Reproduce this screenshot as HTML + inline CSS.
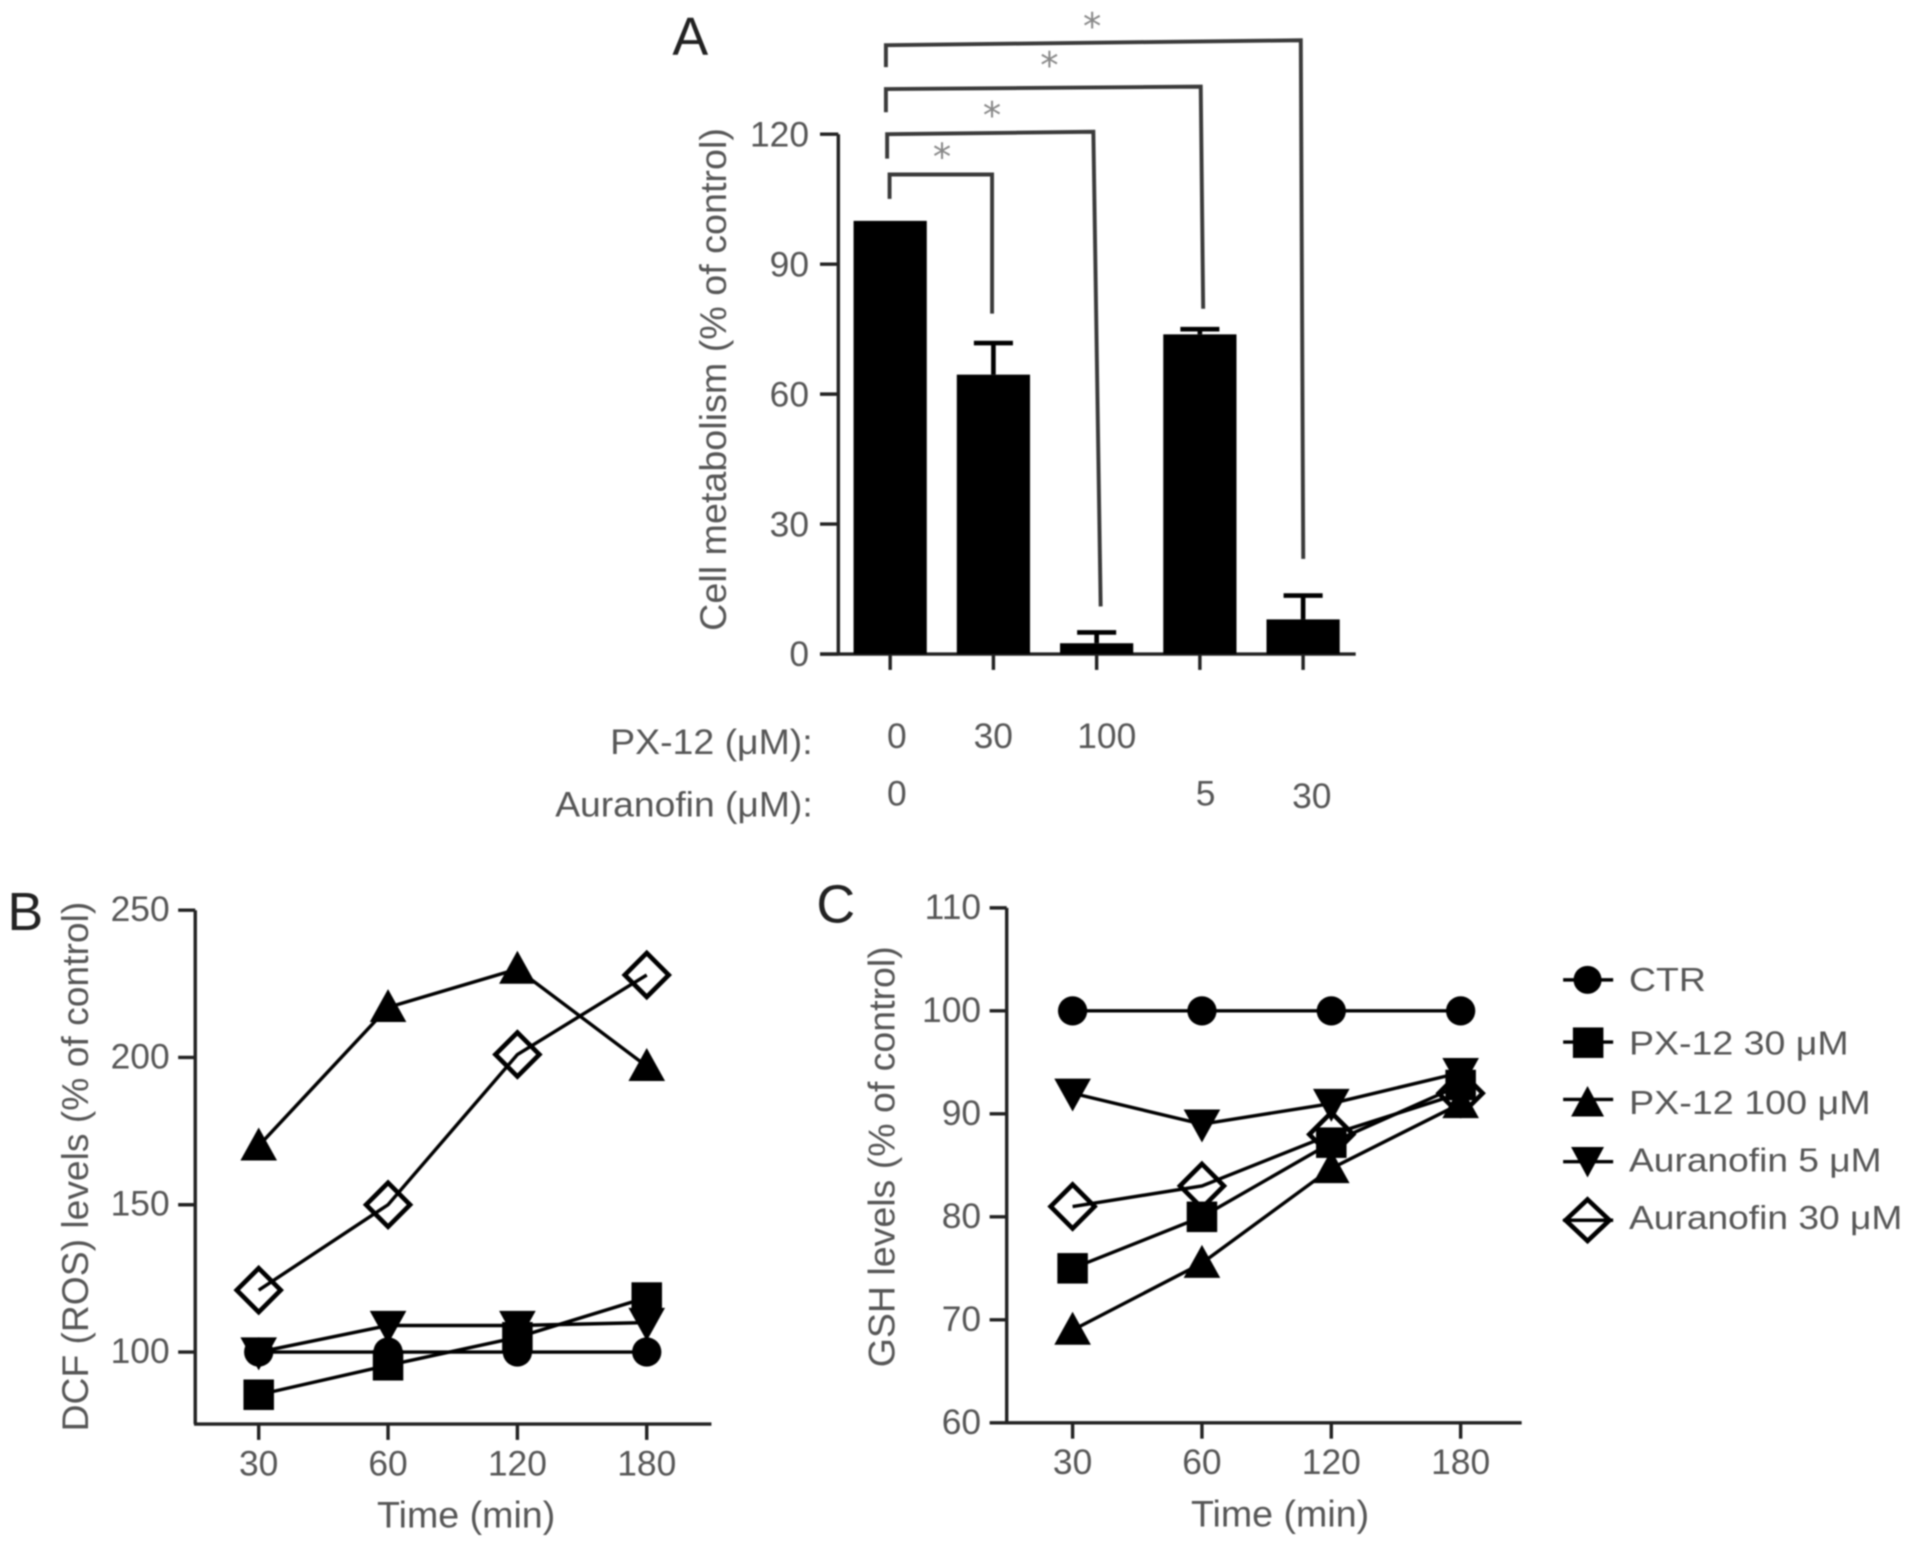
<!DOCTYPE html>
<html lang="en">
<head>
<meta charset="utf-8">
<title>Cell metabolism, ROS and GSH levels</title>
<style>
  html, body { margin: 0; padding: 0; background: #fff; width: 1913px; height: 1548px; overflow: hidden; }
  svg { display: block; filter: blur(0.7px); }
  text { font-family: "Liberation Sans", "DejaVu Sans", sans-serif; fill: #565656; }
</style>
</head>
<body>
<svg id="figure" xmlns="http://www.w3.org/2000/svg" width="1913" height="1548" viewBox="0 0 1567.7 1268.6">
  <rect width="1567.7" height="1268.6" fill="#fff"/>

  <text x="551" y="45" font-size="44" style="fill:#222">A</text>
  <text x="6" y="762" font-size="44" style="fill:#222">B</text>
  <text x="669" y="756" font-size="44" style="fill:#222">C</text>

  <text transform="translate(595,311) rotate(-90)" text-anchor="middle" font-size="30" textLength="412" lengthAdjust="spacingAndGlyphs">Cell metabolism (% of control)</text>
  <text transform="translate(72,956) rotate(-90)" text-anchor="middle" font-size="30" textLength="434" lengthAdjust="spacingAndGlyphs">DCF (ROS) levels (% of control)</text>
  <text transform="translate(733,948) rotate(-90)" text-anchor="middle" font-size="30" textLength="345" lengthAdjust="spacingAndGlyphs">GSH levels (% of control)</text>
  <text x="382" y="1252" text-anchor="middle" font-size="30" textLength="146" lengthAdjust="spacingAndGlyphs">Time (min)</text>
  <text x="1049" y="1251" text-anchor="middle" font-size="30" textLength="146" lengthAdjust="spacingAndGlyphs">Time (min)</text>

  <text x="666" y="618" text-anchor="end" font-size="29" textLength="166" lengthAdjust="spacingAndGlyphs">PX-12 (μM):</text>
  <text x="666" y="669" text-anchor="end" font-size="29" textLength="211" lengthAdjust="spacingAndGlyphs">Auranofin (μM):</text>
  <text x="735" y="613" text-anchor="middle" font-size="29">0</text>
  <text x="814" y="613" text-anchor="middle" font-size="29">30</text>
  <text x="907" y="613" text-anchor="middle" font-size="29">100</text>
  <text x="735" y="660" text-anchor="middle" font-size="29">0</text>
  <text x="988" y="660" text-anchor="middle" font-size="29">5</text>
  <text x="1075" y="662" text-anchor="middle" font-size="29">30</text>

  <g fill="none" stroke="#3a3a3a" stroke-width="3.2">
    <path d="M729 163V143H813V257"/>
    <path d="M727 130V110L896 108L902 497"/>
    <path d="M726 92V73L984 71L986 253"/>
    <path d="M726 55V37L1066 33L1068 458"/>
  </g>
  <g font-size="30" text-anchor="middle">
    <text x="772" y="139" style="fill:#888;font-family:'DejaVu Sans',sans-serif">*</text>
    <text x="813" y="105" style="fill:#888;font-family:'DejaVu Sans',sans-serif">*</text>
    <text x="860" y="64" style="fill:#888;font-family:'DejaVu Sans',sans-serif">*</text>
    <text x="895" y="32" style="fill:#888;font-family:'DejaVu Sans',sans-serif">*</text>
  </g>

  <g id="panel-a"></g>
  <g id="panel-b"></g>
  <g id="panel-c"></g>

  <g id="legend">
    <g>
      <line x1="1281" x2="1322" y1="803" y2="803" stroke="#000" stroke-width="2.8"/>
      <circle cx="1301" cy="803" r="11.5" fill="#000"/>
      <text x="1335" y="812" font-size="27" textLength="63" lengthAdjust="spacingAndGlyphs">CTR</text>
    </g>
    <g>
      <line x1="1281" x2="1322" y1="854" y2="854" stroke="#000" stroke-width="2.8"/>
      <rect x="1289" y="842" width="25" height="25" fill="#000"/>
      <text x="1335" y="864" font-size="27" textLength="180" lengthAdjust="spacingAndGlyphs">PX-12 30 μM</text>
    </g>
    <g>
      <line x1="1281" x2="1322" y1="901" y2="901" stroke="#000" stroke-width="2.8"/>
      <polygon points="1301,890 1314.5,915 1287.5,915" fill="#000"/>
      <text x="1335" y="913" font-size="27" textLength="198" lengthAdjust="spacingAndGlyphs">PX-12 100 μM</text>
    </g>
    <g>
      <line x1="1281" x2="1322" y1="952" y2="952" stroke="#000" stroke-width="2.8"/>
      <polygon points="1287.5,940 1314.5,940 1301,965" fill="#000"/>
      <text x="1335" y="960" font-size="27" textLength="207" lengthAdjust="spacingAndGlyphs">Auranofin 5 μM</text>
    </g>
    <g>
      <polygon points="1301,983 1319,1000 1301,1017 1283,1000" fill="#fff" stroke="#000" stroke-width="3.8"/>
      <line x1="1281" x2="1322" y1="1000" y2="1000" stroke="#000" stroke-width="2.8"/>
      <text x="1335" y="1007" font-size="27" textLength="224" lengthAdjust="spacingAndGlyphs">Auranofin 30 μM</text>
    </g>
  </g>
</svg>

<script>
// Panel A data
const barCategories = ['control', 'px12-30', 'px12-100', 'auranofin-5', 'auranofin-30'];
const barValues = [100, 64.5, 2.5, 73.8, 8];
const barErrors = [0, 7.3, 2.5, 1.2, 5.5];
const barTicks = [0, 30, 60, 90, 120];

// Panels B and C data
const timeLabels = ['30', '60', '120', '180'];
const rosTicks = [100, 150, 200, 250];
const gshTicks = [60, 70, 80, 90, 100, 110];

const rosCtr = [100, 100, 100, 100];
const rosPx30 = [85.5, 95.5, 105, 118.5];
const rosPx100 = [170, 217, 230, 197];
const rosAu5 = [100, 109, 109, 110];
const rosAu30 = [121, 150, 201, 228];

const gshCtr = [100, 100, 100, 100];
const gshPx30 = [75, 80, 87.2, 92.8];
const gshPx100 = [69, 75.5, 84.7, 91];
const gshAu5 = [92, 89, 91, 94];
const gshAu30 = [81, 83, 88, 92];

const SVG_NS = 'http://www.w3.org/2000/svg';
function make(parent, tag, attrs, content) {
  const el = document.createElementNS(SVG_NS, tag);
  for (const key in attrs) el.setAttribute(key, attrs[key]);
  if (content !== undefined) el.textContent = content;
  parent.appendChild(el);
  return el;
}

// ---------- Panel A ----------
const panelA = document.getElementById('panel-a');
const yA = v => 536 - v * 3.55;
const xA = i => 729.5 + i * 84.6;

const axisYA = make(panelA, 'line', {x1: 687, x2: 687, y1: yA(120), y2: yA(0), stroke: '#222', 'stroke-width': 2.8});


const axisXA = make(panelA, 'line', {x1: 672, x2: 1111, y1: yA(0), y2: yA(0), stroke: '#222', 'stroke-width': 2.8});



barTicks.forEach(t => {
  const tick = make(panelA, 'line', {x1: 672, x2: 687, y1: yA(t), y2: yA(t), stroke: '#222', 'stroke-width': 2.8});
  
  
  const label = make(panelA, 'text', {x: 663, y: yA(t) + 10, 'text-anchor': 'end', 'font-size': 29}, String(t));
  
  
});

barCategories.forEach((c, i) => {
  const tick = make(panelA, 'line', {x1: xA(i), x2: xA(i), y1: yA(0), y2: 549, stroke: '#222', 'stroke-width': 2.8});
  
  
  const top = barValues[i] + barErrors[i];
  if (barErrors[i] > 0) {
    const stem = make(panelA, 'line', {x1: xA(i), x2: xA(i), y1: yA(barValues[i]), y2: yA(top), stroke: '#000', 'stroke-width': 3.8});
    
    
    const cap = make(panelA, 'line', {x1: xA(i) - 16, x2: xA(i) + 16, y1: yA(top), y2: yA(top), stroke: '#000', 'stroke-width': 3.8});
    
    
  }
  const bar = make(panelA, 'rect', {x: xA(i) - 30, y: yA(barValues[i]), width: 60, height: yA(0) - yA(barValues[i]), fill: '#000'});
  
  
});

// ---------- Line panels ----------
function marker(group, kind, cx, cy) {
  if (kind === 'circle') return make(group, 'circle', {cx: cx, cy: cy, r: 12, fill: '#000'});
  if (kind === 'square') return make(group, 'rect', {x: cx - 12.5, y: cy - 12.5, width: 25, height: 25, fill: '#000'});
  if (kind === 'up') return make(group, 'polygon', {points: [cx, cy - 15, cx + 15, cy + 12, cx - 15, cy + 12].join(' '), fill: '#000'});
  if (kind === 'down') return make(group, 'polygon', {points: [cx - 15, cy - 12, cx + 15, cy - 12, cx, cy + 15].join(' '), fill: '#000'});
  return make(group, 'polygon', {points: [cx, cy - 18, cx + 18, cy, cx, cy + 18, cx - 18, cy].join(' '), fill: '#fff', stroke: '#000', 'stroke-width': 3.8});
}

function linePanel(rootId, prefix, xFn, yFn, axisX, axisTop, axisBottom, axisRight, ticks, series) {
  const root = document.getElementById(rootId);
  const yAxis = make(root, 'line', {x1: axisX, x2: axisX, y1: axisTop, y2: axisBottom, stroke: '#222', 'stroke-width': 2.8});
  
  
  const xAxis = make(root, 'line', {x1: axisX - 1, x2: axisRight, y1: axisBottom, y2: axisBottom, stroke: '#222', 'stroke-width': 2.8});
  
  

  ticks.forEach(t => {
    const tick = make(root, 'line', {x1: axisX - 14, x2: axisX, y1: yFn(t), y2: yFn(t), stroke: '#222', 'stroke-width': 2.8});
    
    
    const label = make(root, 'text', {x: axisX - 21, y: yFn(t) + 9, 'text-anchor': 'end', 'font-size': 29}, String(t));
    
    
  });

  timeLabels.forEach((t, i) => {
    const tick = make(root, 'line', {x1: xFn(i), x2: xFn(i), y1: axisBottom, y2: axisBottom + 13, stroke: '#222', 'stroke-width': 2.8});
    
    
    const label = make(root, 'text', {x: xFn(i), y: axisBottom + 42, 'text-anchor': 'middle', 'font-size': 29}, t);
    
    
  });

  series.forEach(s => {
    const group = make(root, 'g', {});
    
    
    s.values.forEach((v, i) => {
      const point = marker(group, s.kind, xFn(i), yFn(v));
      
      
    });
    const line = make(group, 'polyline', {
      points: s.values.map((v, i) => xFn(i) + ',' + yFn(v)).join(' '),
      fill: 'none', stroke: '#000', 'stroke-width': 2.8
    });
    
    
  });
}

linePanel('panel-b', 'panel-b', i => 212 + i * 106, v => 1108 - (v - 100) * 2.414, 160, 746, 1167, 583, rosTicks, [
  {name: 'auranofin-30', kind: 'diamond', values: rosAu30},
  {name: 'auranofin-5', kind: 'down', values: rosAu5},
  {name: 'px12-100', kind: 'up', values: rosPx100},
  {name: 'px12-30', kind: 'square', values: rosPx30},
  {name: 'ctr', kind: 'circle', values: rosCtr}
]);

linePanel('panel-c', 'panel-c', i => 879 + i * 106, v => 1166 - (v - 60) * 8.44, 825, 744, 1166, 1247, gshTicks, [
  {name: 'auranofin-30', kind: 'diamond', values: gshAu30},
  {name: 'auranofin-5', kind: 'down', values: gshAu5},
  {name: 'px12-100', kind: 'up', values: gshPx100},
  {name: 'px12-30', kind: 'square', values: gshPx30},
  {name: 'ctr', kind: 'circle', values: gshCtr}
]);
</script>
</body>
</html>
